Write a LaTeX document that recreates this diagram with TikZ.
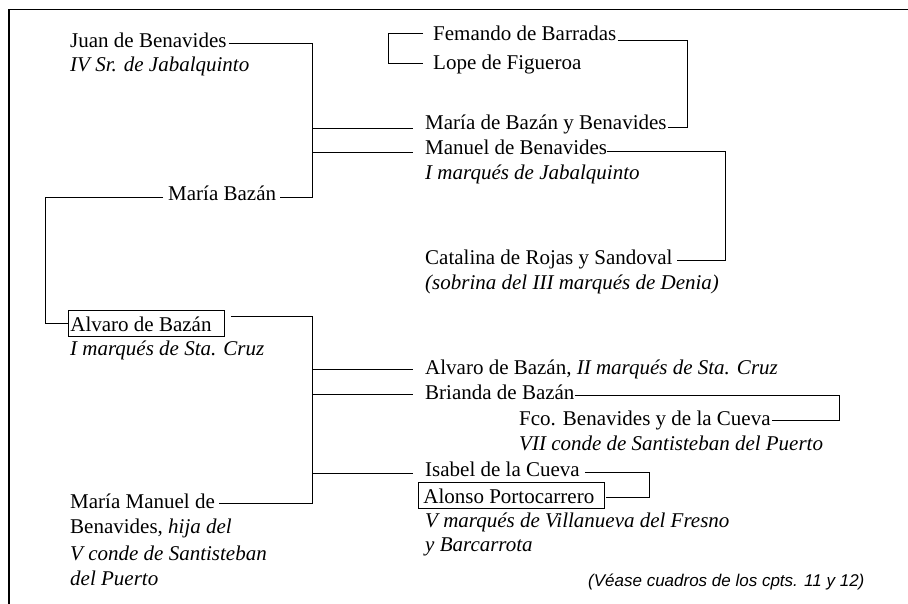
\documentclass[tikz,border=0pt]{standalone}
\usepackage{fontspec}
\setmainfont{Liberation Serif}
\newfontfamily\notefont{Liberation Sans}
\begin{document}
\begin{tikzpicture}[x=1pt,y=-1pt,
  every node/.style={inner xsep=0pt, inner ysep=1pt, anchor=base west, font=\fontsize{21}{25}\selectfont},
  link/.style={line width=0.8pt},
  boxed/.style={draw, line width=0.8pt, inner xsep=2pt, inner ysep=3pt, text height=18pt, text depth=2pt},
  frame/.style={line width=1.3pt}]
\useasboundingbox (0,0) rectangle (908,604);
\draw[frame] (9,604) -- (9,9.5) -- (908,9.5);

% nodes
\node (juan)      at (70,48)  {Juan de Benavides};
\node (juan2)     at (70,72)  {\textit{IV Sr. de Jabalquinto}};
\node (fern)      at (433,41) {Femando de Barradas};
\node (lope)      at (433,70) {Lope de Figueroa};
\node (mbb)       at (425,130) {María de Bazán y Benavides};
\node (manuel)    at (425,155) {Manuel de Benavides};
\node (manuel2)   at (425,180) {\textit{I marqués de Jabalquinto}};
\node (mbazan)    at (168,201) {María Bazán};
\node (catalina)  at (425,265) {Catalina de Rojas y Sandoval};
\node (catalina2) at (425,290) {\textit{(sobrina del III marqués de Denia)}};
\node[boxed] (alvaro) at (68,331) {\makebox[152pt][l]{Alvaro de Bazán}};
\node (alvaro2)   at (70,355) {\textit{I marqués de Sta. Cruz}};
\node (alvaroII)  at (425,374) {Alvaro de Bazán, \textit{II marqués de Sta. Cruz}};
\node (brianda)   at (425,399) {Brianda de Bazán};
\node (fco)       at (519,425) {Fco. Benavides y de la Cueva};
\node (fco2)      at (519,450) {\textit{VII conde de Santisteban del Puerto}};
\node (isabel)    at (425,476) {Isabel de la Cueva};
\node[boxed, inner xsep=5pt] (alonso) at (418,503) {\makebox[176pt][l]{Alonso Portocarrero}};
\node (alonso2)   at (425,527) {\textit{V marqués de Villanueva del Fresno}};
\node (alonso3)   at (425,551) {\textit{y Barcarrota}};
\node (mmanuel)   at (70,508) {María Manuel de};
\node (mmanuel2)  at (70,533) {Benavides, \textit{hija del}};
\node (mmanuel3)  at (70,560) {\textit{V conde de Santisteban}};
\node (mmanuel4)  at (70,585) {\textit{del Puerto}};
\node (note) at (588,586) {\notefont\itshape\fontsize{17}{20}\selectfont (Véase cuadros de los cpts. 11 y 12)};

% bracket coordinates
\coordinate (f1b) at (312,197);
\coordinate (f2b) at (312,503);
\coordinate (fbr) at (687,127);
\coordinate (mcr) at (725,260);
\coordinate (lv)  at (45,323);
\coordinate (bfr) at (839,420);
\coordinate (iar) at (649,497);
\coordinate (mbbL)    at ([xshift=-12pt,yshift=2pt]mbb.base west);
\coordinate (manL)    at ([xshift=-12pt,yshift=3pt]manuel.base west);
\coordinate (alvIIL)  at ([xshift=-12pt,yshift=5pt]alvaroII.base west);
\coordinate (briL)    at ([xshift=-12pt,yshift=5pt]brianda.base west);
\coordinate (isaL)    at ([xshift=-12pt,yshift=3pt]isabel.base west);

% first marriage: Juan de Benavides -- María Bazán
\draw[link] ([xshift=2pt,yshift=5pt]juan.base east) -| (f1b) -- ([xshift=4pt,yshift=4pt]mbazan.base east);
\draw[link] (f1b |- mbbL) -- (mbbL);
\draw[link] (f1b |- manL) -- (manL);

% Fernando / Lope
\draw[link] ([xshift=-10pt,yshift=8pt]fern.base west) -- ++(-35,0) |- ([xshift=-10pt,yshift=7pt]lope.base west);
\draw[link] ([xshift=1pt,yshift=1pt]fern.base east) -| (fbr) -- ([xshift=1pt,yshift=3pt]mbb.base east);

% Manuel -- Catalina
\draw[link] ([yshift=4pt]manuel.base east) -| (mcr) -- ([xshift=4pt,yshift=5pt]catalina.base east);

% María Bazán -- Alvaro de Bazán
\draw[link] ([xshift=-5pt,yshift=4pt]mbazan.base west) -| (lv) -- (alvaro.west);

% Alvaro de Bazán -- María Manuel
\draw[link] ([xshift=6pt,yshift=-7pt]alvaro.north east) -| (f2b) -- ([xshift=4pt,yshift=5pt]mmanuel.base east);
\draw[link] (f2b |- alvIIL) -- (alvIIL);
\draw[link] (f2b |- briL) -- (briL);
\draw[link] (f2b |- isaL) -- (isaL);

% Brianda -- Fco.
\draw[link] ([yshift=4pt]brianda.base east) -| (bfr) -- ([xshift=1pt,yshift=5pt]fco.base east);

% Isabel -- Alonso
\draw[link] ([xshift=5pt,yshift=4pt]isabel.base east) -| (iar) -- ([xshift=1pt,yshift=-2pt]alonso.east);
\end{tikzpicture}
\end{document}
